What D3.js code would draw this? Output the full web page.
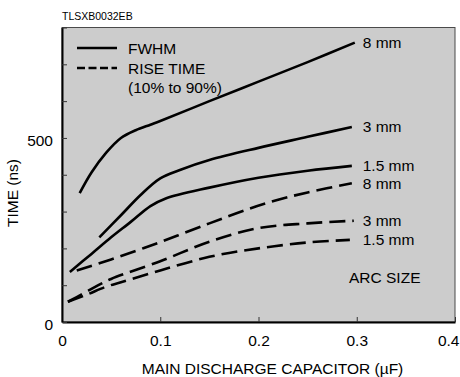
<!DOCTYPE html>
<html>
<head>
<meta charset="utf-8">
<script src="https://cdn.jsdelivr.net/npm/d3@7"></script>
<style>
  html, body { margin: 0; padding: 0; background: #ffffff; }
  svg { display: block; font-family: "Liberation Sans", Arial, Helvetica, sans-serif; }
</style>
</head>
<body>
<svg id="chart" width="460" height="377"></svg>
<script>
// Capacitance (µF) and time (ns) for each arc size
const fwhm8X  = [0.018, 0.03, 0.045, 0.06, 0.075, 0.09, 0.1, 0.15, 0.2, 0.25, 0.298];
const fwhm8Y  = [350, 406, 460, 500, 521, 536, 546, 600, 653, 706, 759];
const fwhm3X  = [0.038, 0.06, 0.08, 0.1, 0.12, 0.15, 0.2, 0.25, 0.295];
const fwhm3Y  = [230, 290, 345, 390, 413, 440, 473, 503, 530];
const fwhm15X = [0.008, 0.03, 0.05, 0.07, 0.09, 0.105, 0.15, 0.2, 0.25, 0.295];
const fwhm15Y = [136, 185, 230, 272, 315, 335, 365, 392, 411, 424];
const rise8X  = [0.015, 0.05, 0.1, 0.15, 0.19, 0.22, 0.25, 0.295];
const rise8Y  = [140, 170, 217, 268, 307, 332, 352, 377];
const rise3X  = [0.006, 0.02, 0.037, 0.05, 0.1, 0.15, 0.2, 0.25, 0.297];
const rise3Y  = [55, 75, 100, 117, 165, 218, 255, 268, 275];
const rise15X = [0.006, 0.025, 0.045, 0.06, 0.1, 0.15, 0.2, 0.25, 0.293];
const rise15Y = [55, 74, 96, 108, 140, 177, 200, 216, 223];

const seriesNames = ["8 mm", "3 mm", "1.5 mm", "8 mm", "3 mm", "1.5 mm"];
const seriesKinds = ["FWHM", "FWHM", "FWHM", "RISE", "RISE", "RISE"];

const xTicks = [0, 0.1, 0.2, 0.3, 0.4];
const xTickLabels = ["0", "0.1", "0.2", "0.3", "0.4"];
const yTicks = [0, 100, 200, 300, 400, 500, 600, 700, 800];
const yTickLabels = ["0", "", "", "", "", "500", "", "", ""];

const series = [
  [fwhm8X, fwhm8Y], [fwhm3X, fwhm3Y], [fwhm15X, fwhm15Y],
  [rise8X, rise8Y], [rise3X, rise3Y], [rise15X, rise15Y]
].map(([xs, ys], i) => ({
  name: seriesNames[i],
  kind: seriesKinds[i],
  points: xs.map((x, j) => ({ x, y: ys[j] }))
}));

const svg = d3.select("#chart");
const plotLeft = 62, plotRight = 455, plotTop = 27.5, plotBottom = 322;

const x = d3.scaleLinear().domain([0, 0.4]).range([plotLeft, plotRight]);
const y = d3.scaleLinear().domain([0, 800]).range([plotBottom, plotTop]);

// Plot background and thin frame
svg.append("rect")
  .attr("x", plotLeft).attr("y", plotTop)
  .attr("width", plotRight - plotLeft).attr("height", plotBottom - plotTop)
  .attr("fill", "#cccccc")
  .attr("stroke", "#4a4a4a").attr("stroke-width", 1);

// Axes with inward ticks
const xAxis = d3.axisBottom(x)
  .tickValues(xTicks)
  .tickFormat((d, i) => xTickLabels[i])
  .tickSizeInner(-5).tickSizeOuter(0).tickPadding(13);
const yAxis = d3.axisLeft(y)
  .tickValues(yTicks)
  .tickFormat((d, i) => yTickLabels[i])
  .tickSizeInner(-5).tickSizeOuter(0).tickPadding(9);

const gx = svg.append("g").attr("transform", `translate(0,${plotBottom})`).call(xAxis);
const gy = svg.append("g").attr("transform", `translate(${plotLeft},0)`).call(yAxis);

[gx, gy].forEach(g => {
  g.select(".domain").attr("stroke", "#000").attr("stroke-width", 2);
  g.selectAll(".tick line").attr("stroke", "#333").attr("stroke-width", 1);
  g.selectAll(".tick text")
    .attr("fill", "#000")
    .style("font-size", "15.5px")
    .style("font-family", "'Liberation Sans', Arial, sans-serif");
});
gy.selectAll(".tick text").attr("dy", "0.5em");
// keep the last x label inside the page edge
gx.selectAll(".tick text").filter(d => d === 0.4)
  .attr("text-anchor", "end").attr("dx", 4);

// Curves
const line = d3.line()
  .x(d => x(d.x))
  .y(d => y(d.y))
  .curve(d3.curveCatmullRom.alpha(0.5));

svg.append("g").selectAll("path")
  .data(series)
  .join("path")
  .attr("d", d => line(d.points))
  .attr("fill", "none")
  .attr("stroke", "#000")
  .attr("stroke-width", 2.6)
  .attr("stroke-dasharray", d => d.kind === "RISE" ? "16,7" : null);

// Arc size labels at the end of each curve
svg.append("g").selectAll("text")
  .data(series)
  .join("text")
  .attr("x", x(0.3) + 6)
  .attr("y", d => y(d.points[d.points.length - 1].y))
  .attr("dy", "0.36em")
  .style("font-size", "15.5px")
  .attr("fill", "#000")
  .text(d => d.name);

svg.append("text")
  .attr("x", 349).attr("y", 283)
  .style("font-size", "15.5px")
  .text("ARC SIZE");

// Legend
const legend = svg.append("g");
legend.append("line")
  .attr("x1", 77).attr("x2", 117).attr("y1", 48).attr("y2", 48)
  .attr("stroke", "#000").attr("stroke-width", 2.6);
legend.append("line")
  .attr("x1", 77).attr("x2", 117).attr("y1", 68).attr("y2", 68)
  .attr("stroke", "#000").attr("stroke-width", 2.6)
  .attr("stroke-dasharray", "8,3.5");
legend.append("text").attr("x", 128).attr("y", 53.5)
  .style("font-size", "15.5px").text("FWHM");
legend.append("text").attr("x", 128).attr("y", 74)
  .style("font-size", "15.5px").text("RISE TIME");
legend.append("text").attr("x", 128).attr("y", 92.5)
  .style("font-size", "15.5px").text("(10% to 90%)");

// Axis titles and drawing code
svg.append("text")
  .attr("x", (plotLeft + plotRight) / 2 + 14).attr("y", 374)
  .attr("text-anchor", "middle")
  .style("font-size", "15.5px")
  .text("MAIN DISCHARGE CAPACITOR (µF)");

svg.append("text")
  .attr("transform", "translate(18,193) rotate(-90)")
  .attr("text-anchor", "middle")
  .style("font-size", "15.5px")
  .text("TIME (ns)");

svg.append("text")
  .attr("x", 62).attr("y", 20)
  .style("font-size", "10.5px")
  .text("TLSXB0032EB");
</script>
</body>
</html>
